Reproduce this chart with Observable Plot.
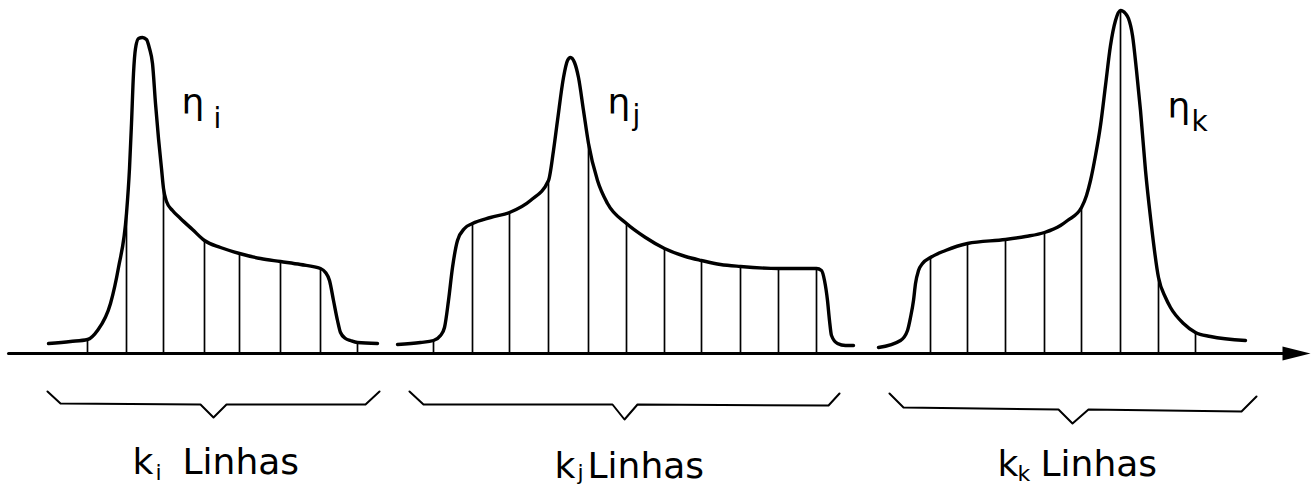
<!DOCTYPE html>
<html>
<head>
<meta charset="utf-8">
<script src="https://cdn.jsdelivr.net/npm/d3@7"></script>
<script src="https://cdn.jsdelivr.net/npm/@observablehq/plot@0.6"></script>
<style>
html,body{margin:0;padding:0;background:#fff;}
svg{display:block;}
</style>
</head>
<body>
<div id="chart"></div>
<script>
// ---- Data: profile curves (position along axis, intensity above axis) ----
const curve1X = [48,70,87,97,110,118,126,129,131,133,135,138,142,146,149,152,155,158,161,163,166,172,180,192,204,220,239,260,280,300,320,325,329,333,337,340,345,350,357,377];
const curve1V = [10,12,14,23,50,86,140,185,230,280,305,315,316,314,305,290,250,215,185,165,152,143,135,124,113,106,100,95,92,89,85,81,73,53,33,21,15,13,11,10];

const curve2X = [397,420,433,440,444,448,452,457,464,472,490,509,530,548,553,557,563,567,570,574,578,583,588,597,607,626,645,664,685,701,720,740,778,816,821,824,827,829,831,837,845,853];
const curve2V = [9,11,13,18,26,53,86,113,125,130,136,141,153,173,203,233,276,293,296,291,276,243,210,173,150,130,116,105,97,93,89,87,85,85,83,73,53,33,18,10,8,8];

const curve3X = [878,900,907,910,913,915,918,922,930,945,967,1005,1025,1044,1060,1067,1081,1086,1090,1095,1100,1105,1110,1115,1120,1125,1128,1132,1136,1140,1145,1150,1158,1165,1170,1183,1195,1210,1245];
const curve3V = [6,13,23,36,53,70,83,90,96,103,110,114,117,121,128,133,146,158,173,198,228,268,308,333,343,340,335,318,283,243,183,136,76,56,46,30,21,17,13];

// ---- Data: sampling lines ("linhas") under each profile ----
const lines1X = [87,126,163,204,239,280,320,357];
const lines1V = [14,140,165,113,100,92,85,11];
const lines2X = [433,472,509,548,588,626,664,701,740,778,816];
const lines2V = [13,130,141,173,210,130,105,93,87,85,85];
const lines3X = [930,967,1005,1044,1081,1120,1158,1195];
const lines3V = [96,110,114,121,146,343,76,21];

// ---- Data: braces below the axis ----
const brace1X = [47,60,200,213,226,365,379];
const brace1V = [-38,-50,-51,-64,-51,-51,-38];
const brace2X = [409,423,612,624,637,828,839];
const brace2V = [-38,-51,-51,-66,-51,-52,-40];
const brace3X = [889,903,1058,1072,1088,1241,1256];
const brace3V = [-40,-54,-56,-70,-56,-58,-43];

// ---- Text ----
const groupSubs = ["i","j","k"];
const groupWord = "Linhas";
const etaSymbol = "η";

// ---- Build tables ----
const zip = (xs, vs, g) => xs.map((x, i) => ({x, v: vs[i], g}));
const curves = [...zip(curve1X, curve1V, 1), ...zip(curve2X, curve2V, 2), ...zip(curve3X, curve3V, 3)];
const lines = [...zip(lines1X, lines1V, 1), ...zip(lines2X, lines2V, 2), ...zip(lines3X, lines3V, 3)];
const braces = [...zip(brace1X, brace1V, 1), ...zip(brace2X, brace2V, 2), ...zip(brace3X, brace3V, 3)];

// layout of labels (placement only)
const labelPos = [
  {kx: 132, sx: 155, wx: 182, y: -120, sy: -126},
  {kx: 554, sx: 577, wx: 587, y: -124, sy: -126},
  {kx: 997, sx: 1017, wx: 1040, y: -122, sy: -127}
];
const etaPos = [
  {ex: 181, ey: 240, sx: 213, sy: 226},
  {ex: 607, ey: 240, sx: 632, sy: 229},
  {ex: 1167, ey: 236, sx: 1191, sy: 223}
];
const labels = groupSubs.map((s, i) => ({sub: s, ...labelPos[i]}));
const etas = groupSubs.map((s, i) => ({sub: s, ...etaPos[i]}));

const axisData = [{x: 8, v: 0}, {x: 1290, v: 0}];
const arrowHead = {
  draw(ctx) {
    ctx.moveTo(14, 0);
    ctx.lineTo(-14, -7);
    ctx.lineTo(-14, 7);
    ctx.closePath();
  }
};

const font = "DejaVu Sans, sans-serif";

const chart = Plot.plot({
  width: 1312,
  height: 486,
  margin: 0,
  style: {background: "#fff", color: "#000", fontFamily: font},
  x: {domain: [0, 1312], range: [0, 1312], axis: null},
  y: {domain: [-133, 353], range: [486, 0], axis: null},
  marks: [
    Plot.ruleX(lines, {x: "x", y1: 0, y2: "v", stroke: "#000", strokeWidth: 1.7}),
    Plot.line(curves, {x: "x", y: "v", z: "g", curve: "monotone-x", stroke: "#000", strokeWidth: 3.4, strokeLinecap: "round"}),
    Plot.line(axisData, {x: "x", y: "v", stroke: "#000", strokeWidth: 3}),
    Plot.dot([{x: 1296, v: 0}], {x: "x", y: "v", symbol: arrowHead, fill: "#000", stroke: "none"}),
    Plot.line(braces, {x: "x", y: "v", z: "g", curve: "linear", stroke: "#000", strokeWidth: 2}),
    Plot.text(labels, {x: "kx", y: "y", text: () => "k", textAnchor: "start", lineAnchor: "bottom", fontSize: 36, fill: "#000"}),
    Plot.text(labels, {x: "sx", y: "sy", text: "sub", textAnchor: "start", lineAnchor: "bottom", fontSize: 22, fill: "#000"}),
    Plot.text(labels, {x: "wx", y: "y", text: () => groupWord, textAnchor: "start", lineAnchor: "bottom", fontSize: 36, fill: "#000"}),
    Plot.text(etas, {x: "ex", y: "ey", text: () => etaSymbol, textAnchor: "start", lineAnchor: "bottom", fontSize: 36, fill: "#000"}),
    Plot.text(etas, {x: "sx", y: "sy", text: "sub", textAnchor: "start", lineAnchor: "bottom", fontSize: 28, fill: "#000"})
  ]
});
document.getElementById("chart").appendChild(chart);
</script>
</body>
</html>
